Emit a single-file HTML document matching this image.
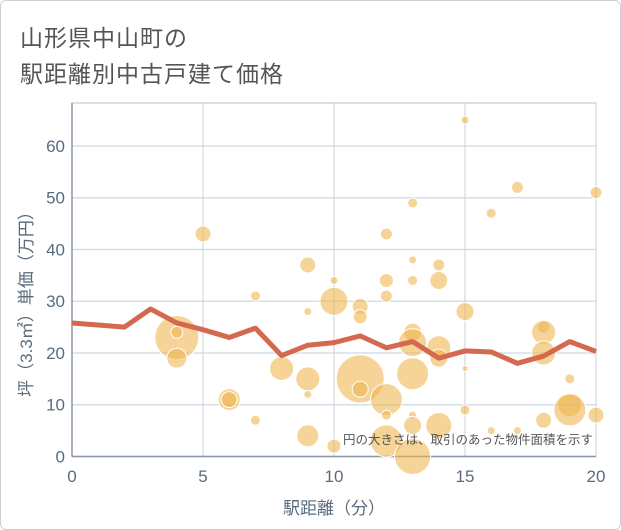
<!DOCTYPE html>
<html><head><meta charset="utf-8">
<style>
html,body{margin:0;padding:0;background:#fff;}
#wrap{position:relative;width:619px;height:528px;border:1px solid #d0d0d0;border-radius:6px;overflow:hidden;font-family:"Liberation Sans","Noto Sans CJK JP",sans-serif;}
.title{position:absolute;left:19px;font-size:23px;color:#555;letter-spacing:1px;white-space:nowrap;}
</style></head>
<body>
<div id="wrap">
<div class="title" style="top:18px">山形県中山町の</div>
<div class="title" style="top:54px">駅距離別中古戸建て価格</div>
<svg id="chart" width="621" height="530" style="position:absolute;left:-1px;top:-1px"></svg>
</div>
<script>
const xTicks=[0,5,10,15,20];
const yTicks=[0,10,20,30,40,50,60];
const lineX=[0,1,2,3,4,5,6,7,8,9,10,11,12,13,14,15,16,17,18,19,20];
const lineY=[25.8,25.4,25,28.5,25.8,24.5,23,24.8,19.5,21.5,22,23.3,21,22.2,19,20.4,20.2,18,19.4,22.2,20.3];
const bubbleX=[4,4,4,5,6,6,7,7,8,9,9,9,9,9,10,10,10,11,11,11,11,12,12,12,12,12,12,13,13,13,13,13,13,13,13,13,14,14,14,14,14,15,15,15,15,16,16,17,17,18,18,18,18,19,19,19,20,20];
const bubbleY=[23,24,19,43,11,11,31,7,17,37,28,15,12,4,34,30,2,29,27,15,13,43,34,31,11,8,3,49,38,34,24,22,16,8,6,0,37,34,21,19,6,65,28,17,9,47,5,52,5,25,24,20,7,15,10,9,51,8];
const bubbleR=[22,6,10,8,11,8,5,5,12,8,4,12,4,11,4,14,7,8,7,24,8,6,7,6,16,5,16,5,4,5,9,14,16,4,9,18,6,9,12,9,13,4,9,3,5,5,4,6,4,6,12,12,8,5,12,16,6,8];
const NS='http://www.w3.org/2000/svg';
const svg=document.getElementById('chart');
const L=72,R=596,T=103,B=456.5,YMAX=68.3;
const sx=v=>L+(v-0)/20*(R-L);
const sy=v=>B-v/YMAX*(B-T);
function mk(tag,attrs){const e=document.createElementNS(NS,tag);for(const k in attrs)e.setAttribute(k,attrs[k]);svg.appendChild(e);return e;}
const bg=mk('rect',{x:L,y:T,width:R-L,height:B-T,fill:'#fff',stroke:'#b8c2cc'});


yTicks.forEach(v=>{
  const g=mk('line',{x1:L,x2:R,y1:sy(v),y2:sy(v),stroke:'#d5dfea','stroke-width':1.5});
  
  
  const t=mk('text',{x:L-7,y:sy(v)+6,'text-anchor':'end','font-size':17,fill:'#5a6b7e'});
  t.textContent=v;
  
  
});
xTicks.forEach(v=>{
  const g=mk('line',{x1:sx(v),x2:sx(v),y1:T,y2:B,stroke:'#c8d0d8','stroke-width':1});
  
  
  const t=mk('text',{x:sx(v),y:482,'text-anchor':'middle','font-size':17,fill:'#5a6b7e'});
  t.textContent=v;
  
  
});
const ax=mk('line',{x1:L,x2:L,y1:T,y2:B,stroke:'#8a98a8','stroke-width':1.5});


const ax2=mk('line',{x1:L,x2:R,y1:B,y2:B,stroke:'#8a98a8','stroke-width':1.5});


bubbleX.forEach((x,i)=>{
  const c=mk('circle',{cx:sx(x),cy:sy(bubbleY[i]),r:bubbleR[i],fill:'#f0b650','fill-opacity':0.6,stroke:'#fff','stroke-width':1});
  
  
});
const p=mk('polyline',{points:lineX.map((x,i)=>sx(x)+','+sy(lineY[i])).join(' '),fill:'none',stroke:'#d5694f','stroke-width':5,'stroke-linejoin':'round'});


const note=mk('text',{x:593,y:444,'text-anchor':'end','font-size':12.5,fill:'#555'});
note.textContent='円の大きさは、取引のあった物件面積を示す';


const xt=mk('text',{x:sx(10),y:514,'text-anchor':'middle','font-size':17,fill:'#5a6b7e'});
xt.textContent='駅距離（分）';


const yt=mk('text',{x:0,y:0,'text-anchor':'middle','font-size':17,fill:'#5a6b7e',transform:'translate(32,300) rotate(-90)'});
yt.textContent='坪（3.3㎡）単価（万円）';


</script>
</body></html>
